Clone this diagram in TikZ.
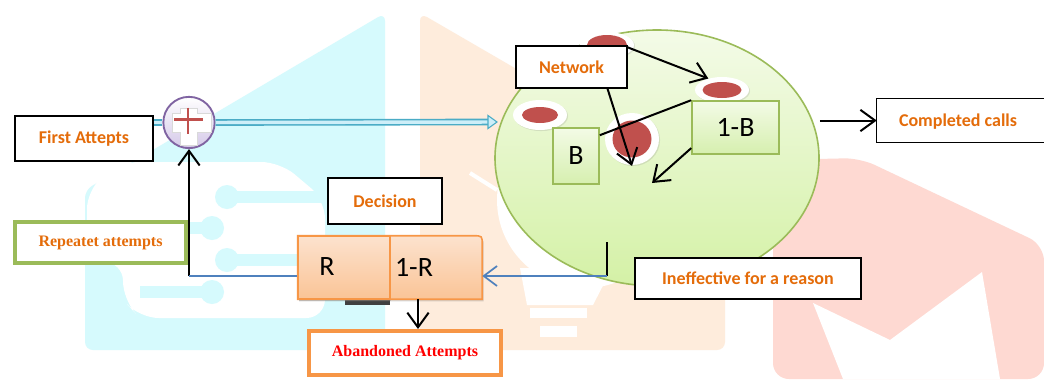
\documentclass[tikz,border=0pt]{standalone}
\usepackage{fontspec}
\setmainfont{Carlito}
\newfontfamily\serifb{Liberation Serif}
\usetikzlibrary{arrows.meta,shapes.geometric,shadows}
\definecolor{lbl}{RGB}{228,108,10}
\definecolor{wcyan}{RGB}{214,250,253}
\definecolor{worange}{RGB}{254,236,220}
\definecolor{wpink}{RGB}{254,217,210}
\definecolor{gborder}{RGB}{155,187,89}
\definecolor{oborder}{RGB}{247,150,70}
\definecolor{bline}{RGB}{79,129,189}
\definecolor{tealb}{RGB}{75,172,198}
\definecolor{purp}{RGB}{128,100,162}
\definecolor{redov}{RGB}{192,80,77}
\definecolor{lcyan}{RGB}{205,238,248}
\definecolor{lav}{RGB}{212,200,232}
\definecolor{elltop}{RGB}{244,251,232}
\definecolor{ellbot}{RGB}{212,241,166}
\definecolor{gtop}{RGB}{243,251,230}
\definecolor{gbot}{RGB}{214,239,175}
\definecolor{otop}{RGB}{252,226,206}
\definecolor{obot}{RGB}{250,196,150}
\tikzset{
  lbox/.style={draw=black, line width=1pt, fill=white, text=lbl,
    font=\bfseries\fontsize{13.5}{16}\selectfont, inner sep=0pt,
    drop shadow={shadow xshift=1pt, shadow yshift=-1pt, opacity=0.35}},
  lbltxt/.style={text=lbl, font=\bfseries\fontsize{13.5}{16}\selectfont, inner sep=0pt},
  sbox/.style={fill=white, line width=3pt, inner sep=0pt,
    font=\serifb\bfseries\fontsize{12}{14}\selectfont},
  gbox/.style={draw=gborder, line width=1.2pt, top color=gtop,
    bottom color=gbot, inner sep=0pt,
    drop shadow={shadow xshift=1pt, shadow yshift=-1pt, opacity=0.3}},
  numtxt/.style={font=\fontsize{21}{24}\selectfont, text=black, inner sep=0pt},
  barb/.style={draw=black, line width=1.5pt, -{Straight Barb[length=11pt,width=16pt]}},
  bluel/.style={draw=bline, line width=1.3pt},
  ring/.style={ellipse, fill=white, inner sep=0pt,
    drop shadow={shadow xshift=0.8pt, shadow yshift=-0.8pt, opacity=0.2}},
  redo/.style={ellipse, fill=redov, inner sep=0pt}
}
\begin{document}
\begin{tikzpicture}[x=0.75pt,y=-0.75pt]
\useasboundingbox (0,0) rectangle (1044,379);
\fill[white] (0,0) rectangle (1044,379);
% watermark: cyan
\fill[wcyan, rounded corners=6pt] (85,350) -- (85,190) -- (385,13) -- (385,350) -- cycle;
\fill[white, rounded corners=14pt] (87,262) -- (87,190) -- (120,162) -- (280,162) -- (325,200)
  -- (325,318) -- (140,318) -- (123,300) -- (123,262) -- cycle;
\fill[wcyan] (227,197) circle[radius=12];
\fill[wcyan] (227,191) rectangle (325,203);
\fill[wcyan] (212,228) circle[radius=12];
\fill[wcyan] (188,222) rectangle (212,234);
\fill[wcyan] (227,260) circle[radius=12];
\fill[wcyan] (227,254) rectangle (300,266);
\fill[wcyan] (212,292) circle[radius=12];
\fill[wcyan] (140,286) rectangle (212,298);
% watermark: orange
\fill[worange, rounded corners=6pt] (420,350) -- (420,13) -- (725,190) -- (725,350) -- cycle;
\fill[white] (585,200) circle[radius=88];
\fill[white] (520,268) -- (612,268) -- (593,305) -- (527,305) -- cycle;
\fill[white] (530,308) rectangle (587,318);
\fill[white] (540,326) rectangle (577,337);
\draw[white, line width=3pt] (470,173) -- (497,190);
% watermark: pink
\fill[wpink, rounded corners=12pt] (773,379) -- (773,160) -- (860,158) -- (1044,245) -- (1044,379) -- cycle;
\fill[white] (813,303) -- (890,340) -- (982,272) -- (1000,379) -- (843,379) -- cycle;
% main nodes
\node[lbox, minimum width=103.5pt, minimum height=33.75pt] (fa) at (84,138.5) {First Attepts};
\node[circle, draw=purp, line width=1.4pt, top color=white, bottom color=lav,
  minimum size=38.5pt, inner sep=0pt] (plus) at (189,122.5) {};
\node[ellipse, draw=gborder, line width=1.2pt, top color=elltop,
  bottom color=ellbot, minimum width=243pt, minimum height=192pt,
  inner sep=0pt] (net) at (657,158) {};
\coordinate (dend) at (488,122);
\coordinate (dtip) at (497,122);
% double line
\draw[line width=5pt, draw=tealb] (fa.east |- plus) -- (plus.west);
\draw[line width=2.6pt, draw=lcyan] (fa.east |- plus) -- (plus.west);
\draw[line width=5pt, draw=tealb] (plus.east) -- (dend);
\draw[line width=2.6pt, draw=lcyan] (plus.east) -- (dend);
\filldraw[fill=lcyan, draw=tealb, line width=0.8pt] (488,115.5) -- (dtip) -- (488,128.5) -- cycle;
% plus sign
\begin{scope}[shift={(plus.center)}]
\fill[white, draw=black!15, line width=0.4pt] (-9,-14.5) -- (8,-14.5) -- (8,-9.5) -- (22,-9.5) -- (22,9.5)
  -- (8,9.5) -- (8,23) -- (-9,23) -- (-9,9.5) -- (-17,9.5) -- (-17,-9.5) -- (-9,-9.5) -- cycle;
\draw[redov, line width=1.6pt] (-15,-3) -- (14,-3);
\draw[redov, line width=1.6pt] (-1,-15) -- (-1,11);
\end{scope}
% left feedback
\node[sbox, draw=gborder, text=lbl, minimum width=128.25pt, minimum height=30.75pt] (rep) at (100.5,242.5) {Repeatet attempts};
\node[lbox, minimum width=85.5pt, minimum height=34.5pt] (dec) at (385,201) {Decision};
\node[inner sep=0pt, minimum width=138pt, minimum height=47.25pt] (oneR) at (390,267.5) {};
\fill[black!75] (345,299) rectangle (390,304.5);
\path[draw=oborder, line width=1.2pt, top color=otop, bottom color=obot,
  drop shadow={shadow xshift=1pt, shadow yshift=-1.5pt, opacity=0.3}]
  (oneR.south west) -- (oneR.north west) -- ([xshift=-7pt]oneR.north east)
  .. controls (oneR.north east) .. ([yshift=-7pt]oneR.north east) -- (oneR.south east) -- cycle;
\node[draw=oborder, line width=1.2pt, top color=otop, bottom color=obot,
  minimum width=69pt, minimum height=47.25pt, inner sep=0pt,
  drop shadow={shadow xshift=1pt, shadow yshift=-1.5pt, opacity=0.3}] (R) at (344,267.5) {};
\node[numtxt] (Rt) at (327,267) {R};
\node[numtxt] (oneRt) at (414,267) {1-R};
\node[sbox, draw=oborder, text=red, minimum width=144pt, minimum height=33pt] (aband) at (405,353) {Abandoned Attempts};
\coordinate (corner) at (189,276);
\draw[barb] (corner) -- (plus.south);
\draw[bluel] (corner) -- (R.west |- corner);
\draw[barb] ([xshift=21pt]oneR.south) -- ([xshift=21pt]oneR.south |- aband.north);
% network internals
\node[ring, minimum width=40.5pt, minimum height=19.5pt] (ov1) at (607,45) {};
\node[redo, minimum width=30pt, minimum height=15pt] (r1) at (607,45) {};
\node[ring, minimum width=40.5pt, minimum height=19.5pt] (ov2) at (722,90) {};
\node[redo, minimum width=29.25pt, minimum height=12pt] (r2) at (722,90) {};
\node[ring, minimum width=40.5pt, minimum height=22.5pt] (ov3) at (540,115) {};
\node[redo, minimum width=27pt, minimum height=12pt] (r3) at (540,115) {};
\node[ring, minimum width=40.5pt, minimum height=39pt] (ov4) at (632,139) {};
\node[redo, minimum width=29.25pt, minimum height=27.75pt] (r4) at (632,139) {};
\node[lbox, minimum width=83.25pt, minimum height=31.5pt] (nw) at (571.5,67) {Network};
\node[gbox, numtxt, minimum width=34.5pt, minimum height=42pt] (B) at (576,156) {B};
\node[gbox, numtxt, minimum width=65.25pt, minimum height=39.75pt] (oneB) at (735.5,127.5) {1-B};
\coordinate (x1) at (652,183);
\draw[barb] ([yshift=-1.5pt]nw.north east) -- (ov2.140);
\draw[barb] ([xshift=27pt]nw.south) -- ([yshift=-0.5pt]ov4.south);
\draw[black, line width=1.5pt] ([yshift=-6pt]B.north east) -- (oneB.north west);
\draw[barb] ([yshift=5pt]oneB.south west) -- (x1);
% outputs
\node[fill=white, inner sep=0pt, minimum width=126pt, minimum height=32.25pt,
  drop shadow={shadow xshift=1pt, shadow yshift=-1pt, opacity=0.35}] (comp) at (961,120.5) {};
\draw[black, line width=1pt] (comp.north east) -- (comp.north west) -- (comp.south west) -- (comp.south east);
\node[lbltxt] (compt) at (958,122) {Completed calls};
\draw[barb] (net.east |- comp.west) -- (comp.west);
\node[lbox, minimum width=169.5pt, minimum height=30.75pt] (ineff) at (748,278.5) {Ineffective for a reason};
\coordinate (ie) at (607,242);
\coordinate (ie2) at (607,276);
\draw[black, line width=1.5pt] (ie) -- (ie2);
\draw[bluel, -{Straight Barb[length=10pt,width=15pt]}] (ie2) -- (oneR.east |- ie2);
\end{tikzpicture}
\end{document}
